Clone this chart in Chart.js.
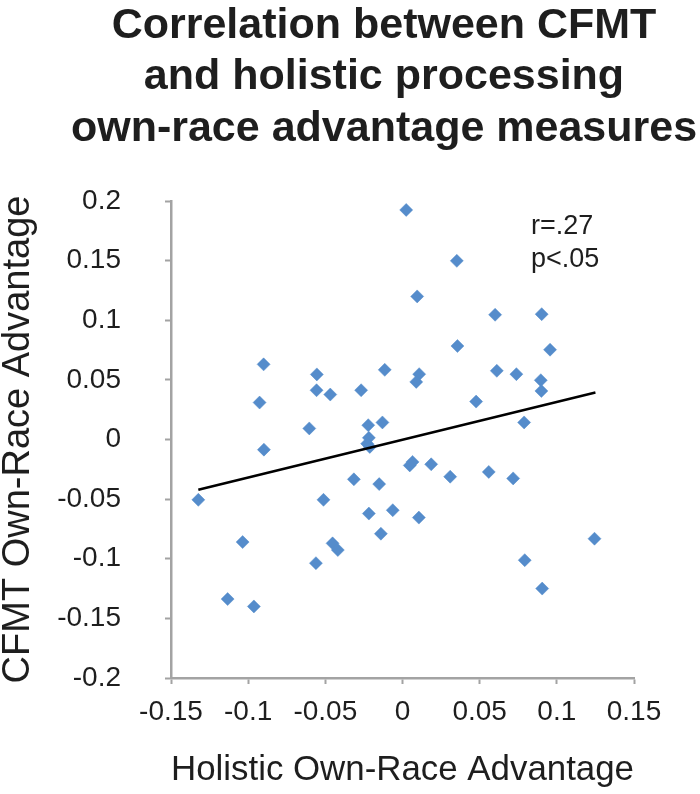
<!DOCTYPE html>
<html>
<head>
<meta charset="utf-8">
<script src="https://cdn.jsdelivr.net/npm/chart.js@4/dist/chart.umd.min.js"></script>
<style>
  html, body { margin: 0; padding: 0; background: #fff; }
  #wrap { width: 700px; height: 794px; position: relative; }
</style>
</head>
<body>
<div id="wrap"><canvas id="corrChart"></canvas></div>
<script>
// holistic own-race advantage (x) vs CFMT own-race advantage (y)
const holisticAdv = [
  0.0024, -0.0900, -0.0555, -0.0115, -0.0557, -0.0468, -0.0268, -0.0926,
  -0.0604, -0.0222, -0.0130, -0.0218, -0.0229, -0.0212, -0.0898, -0.1323,
  -0.0315, -0.0151, -0.0512, -0.0218, -0.0063, -0.0140, -0.1036, -0.0453,
  -0.0419, -0.0561, -0.1133, -0.0963, 0.0047, 0.0065, 0.0186, 0.0309,
  0.0559, 0.0717, 0.0106, 0.1244, 0.0792, 0.0905, 0.0352, 0.0095,
  0.0600, 0.0902, 0.0356, 0.0956, 0.0108, 0.0089, 0.0611, 0.0738,
  0.0896, 0.0900, 0.0477, 0.0788
];
const cfmtAdv = [
  0.1925, 0.0630, 0.0546, 0.0584, 0.0413, 0.0377, 0.0413, 0.0310,
  0.0093, 0.0120, 0.0143, 0.0014, -0.0035, -0.0062, -0.0085, -0.0506,
  -0.0334, -0.0374, -0.0506, -0.0621, -0.0593, -0.0790, -0.0860, -0.0871,
  -0.0927, -0.1037, -0.1338, -0.1400, -0.0217, -0.0188, -0.0208, -0.0312,
  -0.0272, -0.0326, -0.0655, -0.0832, -0.1012, -0.1250, 0.1498, 0.1200,
  0.1046, 0.1051, 0.0784, 0.0753, 0.0548, 0.0483, 0.0576, 0.0548,
  0.0497, 0.0407, 0.0318, 0.0143
];

// linear trend line end points
const trendX = [-0.1323, 0.1250];
const trendY = [-0.0422, 0.0394];

const xTickLabels = ['-0.15', '-0.1', '-0.05', '0', '0.05', '0.1', '0.15'];
const yTickLabels = ['-0.2', '-0.15', '-0.1', '-0.05', '0', '0.05', '0.1', '0.15', '0.2'];

const titleLines = ['Correlation between CFMT', 'and holistic processing', 'own-race advantage measures'];
const statLines = ['r=.27', 'p<.05'];

const FONT = '"Liberation Sans", Arial, Helvetica, sans-serif';
const AXIS_GREY = '#a3a3a3';
const TEXT = '#1e1e1e';
const MARKER = '#558ccb';

const scatterPts = holisticAdv.map((x, i) => ({ x: x, y: cfmtAdv[i] }));
const trendPts = trendX.map((x, i) => ({ x: x, y: trendY[i] }));

// big bold title + r/p note, drawn on the canvas
const textPlugin = {
  id: 'textPlugin',
  afterDraw(chart) {
    const c = chart.ctx;
    c.save();
    c.fillStyle = TEXT;
    c.textAlign = 'center';
    c.textBaseline = 'alphabetic';
    c.font = 'bold 43px ' + FONT;
    titleLines.forEach((t, i) => c.fillText(t, 384, 37.5 + i * 51.5));

    c.textAlign = 'left';
    c.font = '27px ' + FONT;
    statLines.forEach((t, i) => c.fillText(t, 531, 234 + i * 33));
    c.restore();
  }
};

new Chart(document.getElementById('corrChart'), {
  type: 'scatter',
  data: {
    datasets: [
      {
        type: 'line',
        data: trendPts,
        borderColor: '#000',
        borderWidth: 2.5,
        pointRadius: 0,
        fill: false
      },
      {
        data: scatterPts,
        pointStyle: 'rectRot',
        pointRadius: 6.5,
        pointBackgroundColor: MARKER,
        pointBorderColor: MARKER,
        pointBorderWidth: 0.5
      }
    ]
  },
  options: {
    responsive: true,
    maintainAspectRatio: false,
    animation: false,
    layout: { padding: { top: 201, right: 66, left: 0, bottom: 0 } },
    plugins: {
      legend: { display: false },
      tooltip: { enabled: false }
    },
    scales: {
      x: {
        type: 'linear',
        min: -0.15,
        max: 0.15,
        ticks: {
          stepSize: 0.05,
          color: TEXT,
          padding: 11,
          font: { family: FONT, size: 28 },
          callback: (v, i) => xTickLabels[i]
        },
        grid: { drawOnChartArea: false, color: AXIS_GREY, tickLength: 6, tickWidth: 2 },
        border: { color: AXIS_GREY, width: 2.5 },
        title: {
          display: true,
          text: 'Holistic Own-Race Advantage',
          color: TEXT,
          font: { family: FONT, size: 35, lineHeight: 1 },
          padding: { top: 0, bottom: 6 }
        },
        afterFit: s => { s.height = 116; }
      },
      y: {
        type: 'linear',
        min: -0.2,
        max: 0.2,
        ticks: {
          stepSize: 0.05,
          color: TEXT,
          padding: 44,
          font: { family: FONT, size: 28 },
          callback: (v, i) => yTickLabels[i]
        },
        grid: { drawOnChartArea: false, color: AXIS_GREY, tickLength: 6, tickWidth: 2 },
        border: { color: AXIS_GREY, width: 2.5 },
        title: {
          display: true,
          text: 'CFMT Own-Race Advantage',
          color: TEXT,
          font: { family: FONT, size: 38, lineHeight: 1 },
          padding: { top: 0, bottom: 0 }
        },
        afterFit: s => { s.width = 171; }
      }
    }
  },
  plugins: [textPlugin]
});
</script>
</body>
</html>
